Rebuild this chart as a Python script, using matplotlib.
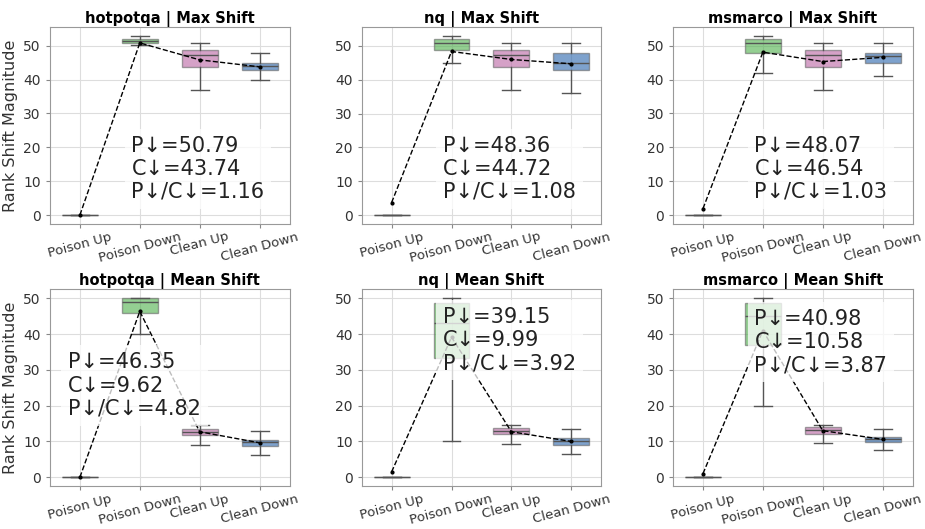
import matplotlib
matplotlib.use('Agg')
import matplotlib.pyplot as plt

groups = ['Poison Up', 'Poison Down', 'Clean Up', 'Clean Down']
datasets = ['hotpotqa', 'nq', 'msmarco']
metrics = ['Max Shift', 'Mean Shift']

# box stats per panel: [q1, median, q3, whislo, whishi] for each group
box_max_hotpotqa = [[0, 0, 0, 0, 0], [50.8, 51.5, 51.9, 50.1, 52.8], [43.8, 47.3, 48.8, 36.9, 50.8], [42.8, 43.9, 44.9, 40.0, 47.8]]
box_max_nq = [[0, 0, 0, 0, 0], [48.9, 51.0, 52.0, 45.1, 52.9], [43.8, 47.4, 48.9, 37.0, 50.9], [42.9, 45.0, 47.9, 36.0, 50.9]]
box_max_msmarco = [[0, 0, 0, 0, 0], [47.8, 50.9, 51.9, 42.0, 52.8], [43.8, 47.3, 48.8, 36.9, 50.8], [44.8, 47.0, 47.9, 40.9, 50.8]]
box_mean_hotpotqa = [[0, 0, 0, 0, 0], [46.0, 49.1, 50.0, 39.9, 50.0], [11.7, 12.7, 13.5, 9.1, 14.7], [8.8, 9.7, 10.5, 6.3, 13.0]]
box_mean_nq = [[0, 0, 0, 0, 0], [33.2, 43.0, 48.8, 10.0, 50.0], [12.0, 13.0, 13.8, 9.2, 14.7], [9.1, 10.0, 11.0, 6.5, 13.5]]
box_mean_msmarco = [[0, 0, 0, 0, 0], [36.9, 45.0, 48.8, 19.8, 50.0], [12.2, 13.1, 14.1, 9.5, 14.7], [9.9, 10.6, 11.3, 7.7, 13.5]]

# group means (dashed line)
means_max_hotpotqa = [0.0, 50.79, 45.8, 43.74]
means_max_nq = [3.7, 48.36, 46.0, 44.72]
means_max_msmarco = [1.9, 48.07, 45.3, 46.54]
means_mean_hotpotqa = [0.0, 46.35, 12.7, 9.62]
means_mean_nq = [1.5, 39.15, 12.7, 9.99]
means_mean_msmarco = [1.0, 40.98, 13.0, 10.58]

# annotation values: P down, C down, ratio
ann_max = [[50.79, 43.74, 1.16], [48.36, 44.72, 1.08], [48.07, 46.54, 1.03]]
ann_mean = [[46.35, 9.62, 4.82], [39.15, 9.99, 3.92], [40.98, 10.58, 3.87]]

boxes = [[box_max_hotpotqa, box_max_nq, box_max_msmarco],
         [box_mean_hotpotqa, box_mean_nq, box_mean_msmarco]]
means = [[means_max_hotpotqa, means_max_nq, means_max_msmarco],
         [means_mean_hotpotqa, means_mean_nq, means_mean_msmarco]]
anns = [ann_max, ann_mean]

colors = ['#4daf4a', '#4daf4a', '#b962a3', '#2864ac']
text_pos = [[(0.34, 0.45), (0.34, 0.45), (0.34, 0.45)],
            [(0.075, 0.68), (0.34, 0.91), (0.34, 0.90)]]

fig = plt.figure(figsize=(9.25, 5.29), dpi=100)
lefts = [0.054, 0.391, 0.7276]
bottoms = [0.5766, 0.081]

for r in range(2):
    for c in range(3):
        ax = fig.add_axes([lefts[c], bottoms[r], 0.259, 0.372])
        stats = []
        for g, b in zip(groups, boxes[r][c]):
            stats.append({'label': g, 'q1': b[0], 'med': b[1], 'q3': b[2],
                          'whislo': b[3], 'whishi': b[4], 'fliers': []})
        bp = ax.bxp(stats, positions=range(4), widths=0.6, patch_artist=True,
                    showfliers=False,
                    boxprops=dict(edgecolor='#666666', linewidth=1),
                    medianprops=dict(color='#555555', linewidth=1),
                    whiskerprops=dict(color='#555555', linewidth=1),
                    capprops=dict(color='#555555', linewidth=1))
        for patch, col in zip(bp['boxes'], colors):
            patch.set_facecolor(col)
            patch.set_alpha(0.6)
        ax.plot(range(4), means[r][c], 'k--', marker='o', markersize=2,
                linewidth=1, zorder=4)
        p, cl, ratio = anns[r][c]
        tx, ty = text_pos[r][c]
        ax.text(tx, ty, f'P\u2193={p:.2f}\nC\u2193={cl:.2f}\nP\u2193/C\u2193={ratio:.2f}',
                transform=ax.transAxes, ha='left', va='top', fontsize=15,
                color='#222222', zorder=5,
                bbox=dict(facecolor='white', alpha=0.75, edgecolor='none', pad=5))
        ax.set_title(f'{datasets[c]} | {metrics[r]}', fontsize=10.5,
                     fontweight='bold', pad=3)
        ax.set_xlim(-0.5, 3.5)
        ax.set_yticks([0, 10, 20, 30, 40, 50])
        ax.set_xticks(range(4))
        ax.set_xticklabels(groups, rotation=15, fontsize=9.5, color='#333333')
        ax.tick_params(axis='y', labelsize=10, labelcolor='#333333')
        ax.tick_params(axis='x', pad=1.5)
        ax.tick_params(length=3, color='#888888')
        ax.grid(True, color='#dddddd', linewidth=0.8)
        ax.set_axisbelow(True)
        for s in ax.spines.values():
            s.set_color('#999999')
        if c == 0:
            ax.set_ylabel('Rank Shift Magnitude', fontsize=11.5, color='#333333')

fig.savefig('out.png', dpi=100)
